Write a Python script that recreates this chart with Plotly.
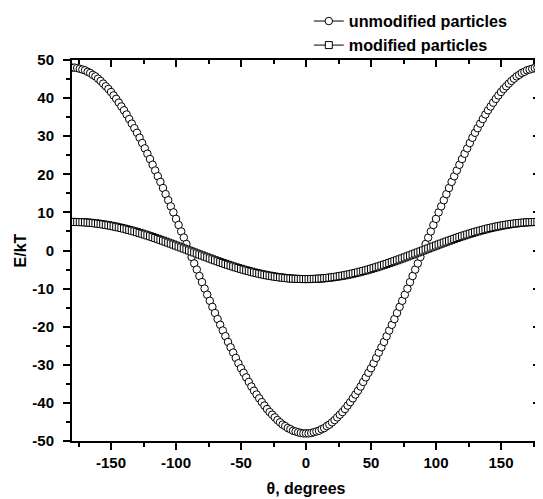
import plotly.graph_objects as go

theta = list(range(-180, 181, 2))

unmodified = [
    48.0, 48.0, 47.9, 47.7, 47.5, 47.3, 46.9, 46.6, 46.1, 45.7, 45.1, 44.5, 43.8, 43.1, 42.4,
    41.6, 40.7, 39.8, 38.8, 37.8, 36.8, 35.7, 34.5, 33.3, 32.1, 30.9, 29.6, 28.2, 26.8, 25.4,
    24.0, 22.5, 21.0, 19.5, 18.0, 16.4, 14.8, 13.2, 11.6, 10.0, 8.3, 6.7, 5.0, 3.4, 1.7,
    0.0,
    -1.7, -3.4, -5.0, -6.7, -8.3, -10.0, -11.6, -13.2, -14.8, -16.4, -18.0, -19.5, -21.0, -22.5, -24.0,
    -25.4, -26.8, -28.2, -29.6, -30.9, -32.1, -33.3, -34.5, -35.7, -36.8, -37.8, -38.8, -39.8, -40.7, -41.6,
    -42.4, -43.1, -43.8, -44.5, -45.1, -45.7, -46.1, -46.6, -46.9, -47.3, -47.5, -47.7, -47.9, -48.0, -48.0,
    -48.0, -47.9, -47.7, -47.5, -47.3, -46.9, -46.6, -46.1, -45.7, -45.1, -44.5, -43.8, -43.1, -42.4, -41.6,
    -40.7, -39.8, -38.8, -37.8, -36.8, -35.7, -34.5, -33.3, -32.1, -30.9, -29.6, -28.2, -26.8, -25.4, -24.0,
    -22.5, -21.0, -19.5, -18.0, -16.4, -14.8, -13.2, -11.6, -10.0, -8.3, -6.7, -5.0, -3.4, -1.7,
    0.0,
    1.7, 3.4, 5.0, 6.7, 8.3, 10.0, 11.6, 13.2, 14.8, 16.4, 18.0, 19.5, 21.0, 22.5, 24.0,
    25.4, 26.8, 28.2, 29.6, 30.9, 32.1, 33.3, 34.5, 35.7, 36.8, 37.8, 38.8, 39.8, 40.7, 41.6,
    42.4, 43.1, 43.8, 44.5, 45.1, 45.7, 46.1, 46.6, 46.9, 47.3, 47.5, 47.7, 47.9, 48.0, 48.0,
]

modified = [
    7.50, 7.50, 7.48, 7.46, 7.43, 7.39, 7.34, 7.28, 7.21, 7.13, 7.05, 6.95, 6.85, 6.74, 6.62,
    6.50, 6.36, 6.22, 6.07, 5.91, 5.75, 5.57, 5.39, 5.21, 5.02, 4.82, 4.62, 4.41, 4.19, 3.97,
    3.75, 3.52, 3.29, 3.05, 2.81, 2.57, 2.32, 2.07, 1.81, 1.56, 1.30, 1.04, 0.78, 0.52, 0.26,
    0.00,
    -0.26, -0.52, -0.78, -1.04, -1.30, -1.56, -1.81, -2.07, -2.32, -2.57, -2.81, -3.05, -3.29, -3.52, -3.75,
    -3.97, -4.19, -4.41, -4.62, -4.82, -5.02, -5.21, -5.39, -5.57, -5.75, -5.91, -6.07, -6.22, -6.36, -6.50,
    -6.62, -6.74, -6.85, -6.95, -7.05, -7.13, -7.21, -7.28, -7.34, -7.39, -7.43, -7.46, -7.48, -7.50, -7.50,
    -7.50, -7.48, -7.46, -7.43, -7.39, -7.34, -7.28, -7.21, -7.13, -7.05, -6.95, -6.85, -6.74, -6.62, -6.50,
    -6.36, -6.22, -6.07, -5.91, -5.75, -5.57, -5.39, -5.21, -5.02, -4.82, -4.62, -4.41, -4.19, -3.97, -3.75,
    -3.52, -3.29, -3.05, -2.81, -2.57, -2.32, -2.07, -1.81, -1.56, -1.30, -1.04, -0.78, -0.52, -0.26,
    0.00,
    0.26, 0.52, 0.78, 1.04, 1.30, 1.56, 1.81, 2.07, 2.32, 2.57, 2.81, 3.05, 3.29, 3.52, 3.75,
    3.97, 4.19, 4.41, 4.62, 4.82, 5.02, 5.21, 5.39, 5.57, 5.75, 5.91, 6.07, 6.22, 6.36, 6.50,
    6.62, 6.74, 6.85, 6.95, 7.05, 7.13, 7.21, 7.28, 7.34, 7.39, 7.43, 7.46, 7.48, 7.50, 7.50,
]

series_names = ["unmodified particles", "modified particles"]
x_ticks = [-150, -100, -50, 0, 50, 100, 150]
x_tick_labels = ["-150", "-100", "-50", "0", "50", "100", "150"]
x_minor = [-175, -125, -75, -25, 25, 75, 125, 175]
y_ticks = [-50, -40, -30, -20, -10, 0, 10, 20, 30, 40, 50]
y_tick_labels = ["-50", "-40", "-30", "-20", "-10", "0", "10", "20", "30", "40", "50"]
y_minor = [-45, -35, -25, -15, -5, 5, 15, 25, 35, 45]

FONT = "Liberation Sans, Arial, sans-serif"

fig = go.Figure()
fig.add_trace(go.Scatter(
    x=theta, y=unmodified, name=series_names[0], mode="lines+markers",
    line=dict(color="black", width=1),
    marker=dict(symbol="circle", size=7.5, color="white", line=dict(color="black", width=1)),
))
fig.add_trace(go.Scatter(
    x=theta, y=modified, name=series_names[1], mode="lines+markers",
    line=dict(color="black", width=1),
    marker=dict(symbol="square", size=7, color="white", line=dict(color="black", width=1)),
))
# invisible trace to host the top/right mirror axes
fig.add_trace(go.Scatter(x=[theta[0]], y=[unmodified[0]], xaxis="x2", yaxis="y2",
                         mode="markers", marker=dict(opacity=0), showlegend=False, hoverinfo="skip"))

axis_common = dict(showline=True, linecolor="black", linewidth=2, showgrid=False, zeroline=False,
                   tickcolor="black", tickwidth=2, ticklen=7)

fig.update_layout(
    width=535, height=491,
    margin=dict(l=64, r=3, t=52, b=58, autoexpand=False),
    paper_bgcolor="white", plot_bgcolor="white",
    font=dict(family=FONT, color="black"),
    showlegend=True,
    legend=dict(x=0.506, y=1.147, xanchor="left", yanchor="top", bgcolor="rgba(0,0,0,0)",
                font=dict(family=FONT, size=16.2, color="black", weight="bold"),
                tracegroupgap=0, itemsizing="trace"),
    xaxis=dict(range=[-180, 180], tickmode="array", tickvals=x_ticks, ticktext=x_tick_labels,
               ticks="outside",
               tickfont=dict(family=FONT, size=15, weight="bold"),
               minor=dict(tickvals=x_minor, ticks="outside",
                          ticklen=4, tickwidth=2, tickcolor="black"),
               title=dict(text="θ, degrees", font=dict(family=FONT, size=16, weight="bold"), standoff=13),
               **axis_common),
    yaxis=dict(range=[-50, 50], tickmode="array", tickvals=y_ticks, ticktext=y_tick_labels,
               ticks="outside",
               tickfont=dict(family=FONT, size=15, weight="bold"), ticklabelstandoff=6,
               minor=dict(tickvals=y_minor, ticks="outside",
                          ticklen=4, tickwidth=2, tickcolor="black"),
               title=dict(text="E/kT", font=dict(family=FONT, size=16, weight="bold"), standoff=2),
               **axis_common),
    xaxis2=dict(range=[-180, 180], overlaying="x", side="top", anchor="y", tickmode="array",
                tickvals=x_ticks, ticks="inside", showticklabels=False,
                minor=dict(tickvals=x_minor, ticks="inside",
                           ticklen=4, tickwidth=2, tickcolor="black"),
                **axis_common),
    yaxis2=dict(range=[-50, 50], overlaying="y", side="right", anchor="x", tickmode="array",
                tickvals=y_ticks, ticks="inside", showticklabels=False,
                minor=dict(tickvals=y_minor, ticks="inside",
                           ticklen=4, tickwidth=2, tickcolor="black"),
                **axis_common),
)

fig.write_html("out.html")
